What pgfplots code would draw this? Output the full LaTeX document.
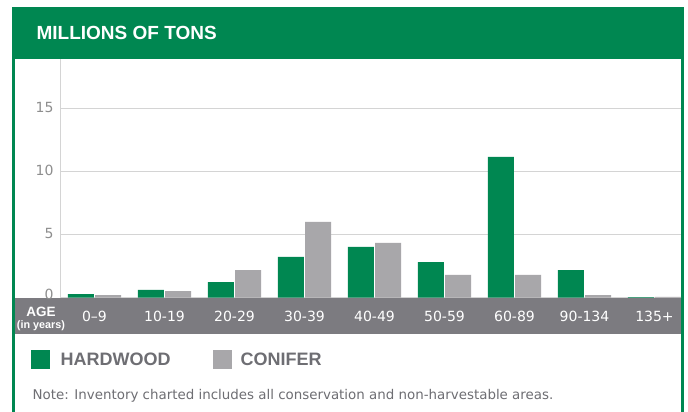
\documentclass[border=0pt]{standalone}
\usepackage{pgfplots}
\pgfplotsset{compat=1.18}
\usepackage{fontspec}
\setmainfont{Liberation Sans}
\newfontfamily\dejavu{DejaVu Sans}
\definecolor{fgreen}{HTML}{008751}
\definecolor{bandgray}{HTML}{7C7B80}
\definecolor{bargray}{HTML}{A8A7AA}
\definecolor{txtgray}{HTML}{6E6E73}
\definecolor{tickgray}{HTML}{8E8E8E}
\definecolor{gridgray}{HTML}{D4D4D4}
\pgfplotstableread{
x hw cf
0 0.29 0.20
1 0.61 0.52
2 1.24 2.19
3 3.22 5.99
4 4.01 4.33
5 2.82 1.80
6 11.13 1.80
7 2.19 0.21
8 0.04 0.06
}\datatable
\begin{document}
\begin{tikzpicture}[x=1pt,y=1pt]
\useasboundingbox (0,0) rectangle (688,412);
\fill[white] (0,0) rectangle (688,412);
% header
\fill[fgreen] (12,353) rectangle (683.5,405);
\node[anchor=west,text=white,font=\fontsize{19}{19}\selectfont\bfseries] at (33,379) {MILLIONS OF TONS};
% side borders
\fill[fgreen] (12,0) rectangle (14.5,353);
\fill[fgreen] (681,0) rectangle (683.5,353);
% band
\fill[bandgray] (14.5,78) rectangle (681,114.3);
\begin{axis}[
  at={(61pt,114.3pt)}, anchor=south west,
  scale only axis, width=620pt, height=238.7pt,
  xmin=-0.479, xmax=8.38, ymin=0, ymax=18.88,
  axis x line=none,
  axis y line*=left,
  y axis line style={draw=gridgray, line width=1pt, -},
  ytick={0,5,10,15}, yticklabels={\raisebox{4.5pt}{0},5,10,15},
  major tick length=0pt,
  ymajorgrids, grid style={gridgray, line width=1pt},
  yticklabel style={text=tickgray, font=\dejavu\fontsize{14}{14}\selectfont, xshift=-4pt, yshift=0.8pt},
  xtick=\empty,
  ybar, bar width=0.371,
  clip=false,
]
\addplot[draw=none, fill=fgreen, bar shift=-0.195] table[x=x,y=hw]{\datatable};
\addplot[draw=none, fill=bargray, bar shift=0.195] table[x=x,y=cf]{\datatable};
\end{axis}
% x labels in band
\foreach \lab [count=\i from 0] in {0\textendash 9,10-19,20-29,30-39,40-49,50-59,60-89,90-134,135+} {
  \node[text=white,font=\dejavu\fontsize{14}{14}\selectfont] at (94.5+70*\i,96) {\lab};
}
\node[text=white,font=\fontsize{13.5}{13.5}\selectfont\bfseries] at (41,100.5) {AGE};
\node[text=white,font=\fontsize{10.8}{10.8}\selectfont\bfseries] at (41,86) {(in years)};
% legend
\fill[fgreen] (31,43) rectangle (50,62);
\node[anchor=west,text=txtgray,font=\fontsize{18}{18}\selectfont\bfseries] at (57,52.5) {HARDWOOD};
\fill[bargray] (212.5,43) rectangle (231.5,62);
\node[anchor=west,text=txtgray,font=\fontsize{18}{18}\selectfont\bfseries] at (237,52.5) {CONIFER};
% note
\node[anchor=west,text=txtgray,font=\dejavu\fontsize{13.4}{13.4}\selectfont] at (29,16) {Note: Inventory charted includes all conservation and non-harvestable areas.};
\end{tikzpicture}
\end{document}
